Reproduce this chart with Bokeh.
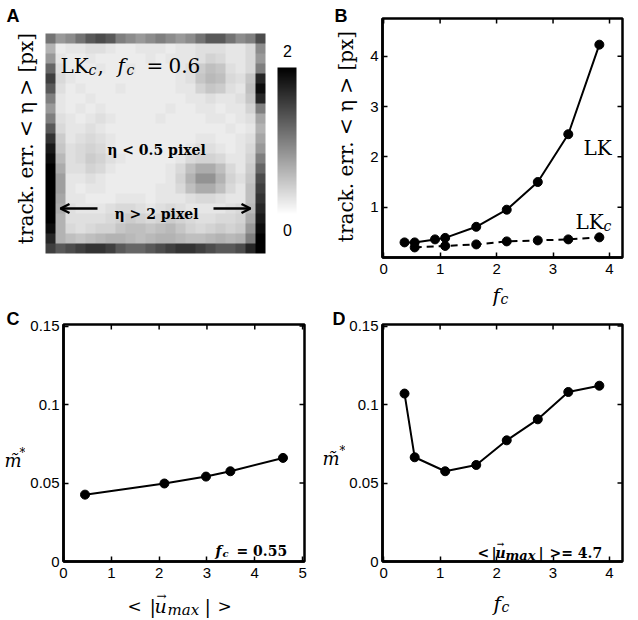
import numpy as np
from bokeh.plotting import figure
from bokeh.models import Range1d, Label, FixedTicker, LinearColorMapper, Arrow, OpenHead
from bokeh.layouts import row, column
from bokeh.palettes import Greys256
from bokeh.embed import file_html
from bokeh.resources import INLINE

SERIF = "DejaVu Serif"
SANS = "Liberation Sans"

# ---------------- data ----------------
# Panel B: tracking error vs f_c
fc_lk = [0.37, 0.55, 0.91, 1.09, 1.64, 2.18, 2.73, 3.27, 3.82]
err_lk = [0.30, 0.30, 0.36, 0.39, 0.61, 0.95, 1.50, 2.45, 4.23]
fc_lkc = [0.55, 1.09, 1.64, 2.18, 2.73, 3.27, 3.82]
err_lkc = [0.20, 0.23, 0.26, 0.32, 0.34, 0.36, 0.40]

# Panel C: m* vs <|u_max|>
umax_c = [0.45, 2.11, 2.98, 3.49, 4.59]
m_c = [0.0426, 0.0497, 0.0541, 0.0575, 0.0660]

# Panel D: m* vs f_c
fc_d = [0.37, 0.55, 1.09, 1.64, 2.18, 2.73, 3.27, 3.82]
m_d = [0.107, 0.0664, 0.0575, 0.0615, 0.0772, 0.0906, 0.108, 0.112]

# Panel A: tracking error map (px), rows listed top to bottom
err_map = [
    [1.1, 0.8, 0.9, 1.1, 1.3, 1.4, 1.3, 1.0, 0.9, 0.8, 0.9, 1.0, 0.9, 0.8, 0.9, 1.1, 1.3, 1.3, 1.1, 0.9, 1.0, 1.4],
    [0.6, 0.15, 0.2, 0.2, 0.25, 0.25, 0.2, 0.15, 0.15, 0.2, 0.2, 0.2, 0.15, 0.2, 0.2, 0.25, 0.25, 0.25, 0.2, 0.2, 0.3, 0.9],
    [0.8, 0.2, 0.15, 0.15, 0.2, 0.15, 0.15, 0.15, 0.15, 0.15, 0.2, 0.15, 0.2, 0.2, 0.2, 0.25, 0.35, 0.3, 0.2, 0.2, 0.3, 0.8],
    [1.2, 0.25, 0.15, 0.15, 0.15, 0.2, 0.15, 0.15, 0.2, 0.15, 0.15, 0.15, 0.15, 0.2, 0.25, 0.4, 0.5, 0.45, 0.25, 0.2, 0.3, 1.0],
    [1.5, 0.3, 0.2, 0.15, 0.15, 0.15, 0.15, 0.15, 0.15, 0.15, 0.15, 0.15, 0.15, 0.2, 0.25, 0.45, 0.55, 0.5, 0.3, 0.25, 0.45, 1.7],
    [1.3, 0.25, 0.15, 0.2, 0.15, 0.15, 0.15, 0.2, 0.15, 0.15, 0.15, 0.15, 0.15, 0.2, 0.2, 0.35, 0.45, 0.4, 0.25, 0.2, 0.5, 1.9],
    [1.0, 0.2, 0.15, 0.15, 0.2, 0.15, 0.15, 0.15, 0.15, 0.15, 0.15, 0.15, 0.15, 0.15, 0.2, 0.2, 0.25, 0.2, 0.2, 0.25, 0.45, 1.7],
    [0.8, 0.2, 0.15, 0.2, 0.15, 0.2, 0.15, 0.15, 0.15, 0.15, 0.15, 0.15, 0.2, 0.15, 0.15, 0.2, 0.2, 0.15, 0.2, 0.2, 0.35, 1.0],
    [1.0, 0.25, 0.2, 0.15, 0.2, 0.25, 0.2, 0.15, 0.15, 0.15, 0.15, 0.2, 0.15, 0.15, 0.15, 0.15, 0.2, 0.2, 0.15, 0.2, 0.25, 0.7],
    [1.3, 0.3, 0.2, 0.2, 0.25, 0.2, 0.15, 0.15, 0.15, 0.15, 0.15, 0.15, 0.15, 0.15, 0.15, 0.15, 0.15, 0.15, 0.2, 0.15, 0.2, 0.6],
    [1.6, 0.4, 0.2, 0.25, 0.3, 0.25, 0.2, 0.15, 0.15, 0.15, 0.15, 0.15, 0.15, 0.15, 0.15, 0.2, 0.2, 0.15, 0.15, 0.2, 0.25, 0.7],
    [1.8, 0.45, 0.25, 0.3, 0.35, 0.3, 0.2, 0.15, 0.15, 0.15, 0.15, 0.15, 0.15, 0.15, 0.2, 0.25, 0.25, 0.2, 0.15, 0.2, 0.3, 0.8],
    [1.9, 0.55, 0.25, 0.3, 0.4, 0.35, 0.25, 0.2, 0.15, 0.15, 0.15, 0.15, 0.15, 0.2, 0.3, 0.35, 0.35, 0.3, 0.2, 0.2, 0.35, 1.0],
    [2.0, 0.65, 0.25, 0.25, 0.35, 0.3, 0.2, 0.15, 0.15, 0.15, 0.15, 0.15, 0.2, 0.3, 0.5, 0.65, 0.65, 0.5, 0.3, 0.2, 0.4, 1.2],
    [2.0, 0.75, 0.2, 0.2, 0.25, 0.2, 0.15, 0.15, 0.15, 0.15, 0.15, 0.15, 0.2, 0.35, 0.6, 0.85, 0.85, 0.6, 0.35, 0.25, 0.45, 1.4],
    [2.0, 0.75, 0.2, 0.15, 0.2, 0.2, 0.15, 0.15, 0.15, 0.15, 0.15, 0.2, 0.2, 0.3, 0.5, 0.65, 0.65, 0.5, 0.3, 0.2, 0.5, 1.5],
    [2.0, 0.7, 0.2, 0.2, 0.15, 0.15, 0.15, 0.2, 0.2, 0.2, 0.15, 0.2, 0.2, 0.2, 0.25, 0.3, 0.3, 0.25, 0.2, 0.2, 0.5, 1.6],
    [2.0, 0.65, 0.25, 0.2, 0.2, 0.2, 0.25, 0.3, 0.3, 0.25, 0.2, 0.25, 0.3, 0.25, 0.2, 0.2, 0.2, 0.2, 0.25, 0.3, 0.55, 1.7],
    [2.0, 0.6, 0.25, 0.25, 0.25, 0.25, 0.3, 0.35, 0.4, 0.35, 0.3, 0.35, 0.4, 0.35, 0.3, 0.25, 0.25, 0.3, 0.3, 0.35, 0.65, 1.8],
    [1.9, 0.6, 0.3, 0.25, 0.3, 0.35, 0.35, 0.45, 0.5, 0.5, 0.45, 0.5, 0.55, 0.45, 0.35, 0.3, 0.35, 0.4, 0.35, 0.4, 0.8, 1.9],
    [1.7, 0.6, 0.5, 0.45, 0.5, 0.55, 0.6, 0.6, 0.55, 0.5, 0.55, 0.6, 0.6, 0.55, 0.5, 0.5, 0.55, 0.6, 0.55, 0.6, 1.0, 2.0],
    [1.5, 1.3, 1.4, 1.5, 1.6, 1.6, 1.5, 1.3, 1.2, 1.2, 1.3, 1.4, 1.5, 1.6, 1.6, 1.5, 1.4, 1.3, 1.3, 1.4, 1.7, 2.0],
]
cbar_low, cbar_high = 0, 2
cbar_labels = ["0", "2"]

# ticks
b_xticks = [0, 1, 2, 3, 4]
b_yticks = [1, 2, 3, 4]
c_xticks = [0, 1, 2, 3, 4, 5]
d_xticks = [0, 1, 2, 3, 4]
m_yticks = [0, 0.05, 0.1, 0.15]
m_ytick_labels = ["0", "0.05", "0.1", "0.15"]


# ---------------- helpers ----------------
class PageMap:
    """maps reference-page pixel positions onto a figure's data coordinates"""
    def __init__(self, fl, ft, fw, fh, xr, yr):
        self.fl, self.ft, self.fw, self.fh, self.xr, self.yr = fl, ft, fw, fh, xr, yr

    def __call__(self, px, py):
        x = self.xr[0] + (px - self.fl) / self.fw * (self.xr[1] - self.xr[0])
        y = self.yr[1] - (py - self.ft) / self.fh * (self.yr[1] - self.yr[0])
        return x, y


def txt(p, m, px, py, s, size, font=SERIF, style="normal", align="left",
        baseline="alphabetic", angle=0.0):
    x, y = m(px, py)
    p.add_layout(Label(x=x, y=y, text=s, text_font=font, text_font_size=f"{size}px",
                       text_font_style=style, text_align=align, text_baseline=baseline,
                       angle=angle, text_color="black"))


def blank_fig(ox, oy, w, h, xr=None, yr=None, bl=0, br=0):
    """axis-less figure; its frame spans [ox+bl, ox+w-br] x [oy, oy+h] on the page"""
    fw = w - bl - br
    xr = xr or (0, fw)
    yr = yr or (0, h)
    p = figure(width=w, height=h, x_range=Range1d(*xr), y_range=Range1d(*yr),
               output_backend="svg", toolbar_location=None,
               min_border_left=bl, min_border_right=br, min_border_top=0,
               min_border_bottom=0, x_axis_type=None, y_axis_type=None)
    p.outline_line_color = None
    p.background_fill_color = "white"
    p.border_fill_color = "white"
    return p, PageMap(ox + bl, oy, fw, h, xr, yr)


def make_panel(ox, oy, w, h, fl, ft, fw, fh, xr, yr, xticks, yticks, ylabels=None):
    p = figure(width=w, height=h, x_range=Range1d(*xr), y_range=Range1d(*yr),
               output_backend="svg", toolbar_location=None,
               min_border_left=fl - ox, min_border_top=ft - oy,
               min_border_right=w - (fl - ox) - fw, min_border_bottom=h - (ft - oy) - fh)
    p.xgrid.visible = False
    p.ygrid.visible = False
    p.outline_line_color = "black"
    p.outline_line_width = 2.5
    p.background_fill_color = "white"
    p.border_fill_color = "white"
    for ax, ticks in ((p.xaxis[0], xticks), (p.yaxis[0], yticks)):
        ax.ticker = FixedTicker(ticks=ticks)
        ax.major_tick_in = 5
        ax.major_tick_out = 0
        ax.minor_tick_in = 0
        ax.minor_tick_out = 0
        ax.axis_line_width = 2.5
        ax.major_tick_line_width = 1.5
        ax.major_label_text_font = SANS
        ax.major_label_text_font_size = "15px"
        ax.major_label_text_color = "black"
    p.xaxis[0].major_label_standoff = 6
    p.yaxis[0].major_label_standoff = 4
    if ylabels:
        p.yaxis[0].major_label_overrides = dict(zip(yticks, ylabels))
    # inward ticks on the top and right edges of the box (half of each dash is clipped)
    p.scatter(xticks, [yr[1]] * len(xticks), marker="dash", size=10, angle=np.pi / 2,
              line_color="black", line_width=1.5)
    p.scatter([xr[1]] * len(yticks), yticks, marker="dash", size=10,
              line_color="black", line_width=1.5)
    return p, PageMap(fl, ft, fw, fh, xr, yr)


TOP_H = 306      # height of the upper row
BOT_Y = TOP_H    # page y where the lower row starts

# ---------------- Panel A ----------------
pA, mA = blank_fig(0, 0, 319, TOP_H, xr=((0 - 45) / 220, (319 - 45) / 220),
                   yr=((253 - TOP_H) / 220, (253 - 0) / 220))
cmap = LinearColorMapper(palette=list(reversed(Greys256)), low=cbar_low, high=cbar_high)
pA.image(image=[np.flipud(np.array(err_map, dtype=float))], x=0, y=0, dw=1, dh=1,
         color_mapper=cmap)
grad = np.linspace(cbar_low, cbar_high, 256).reshape(-1, 1)
cx0, cy0 = mA(277, 214)
cx1, cy1 = mA(296, 67)
pA.image(image=[grad], x=cx0, y=cy0, dw=cx1 - cx0, dh=cy1 - cy0, color_mapper=cmap)
txt(pA, mA, 287, 50, cbar_labels[1], 16, SANS, align="center", baseline="middle")
txt(pA, mA, 287, 229, cbar_labels[0], 16, SANS, align="center", baseline="middle")

txt(pA, mA, 6, 5, "A", 18, SANS, "bold", baseline="top")
txt(pA, mA, 25, 138, "track. err. < η > [px]", 20, align="center", baseline="middle",
    angle=np.pi / 2)
txt(pA, mA, 60, 65, "LK", 20)
txt(pA, mA, 88, 69, "c", 14, style="italic")
txt(pA, mA, 97, 65, ",", 20)
txt(pA, mA, 117, 65, "f", 20, style="italic")
txt(pA, mA, 126, 69, "c", 14, style="italic")
txt(pA, mA, 146, 65, "=", 20)
txt(pA, mA, 168, 65, "0.6", 20)
txt(pA, mA, 156, 149, "η < 0.5 pixel", 14, style="bold", align="center")
txt(pA, mA, 156, 213, "η > 2 pixel", 14, style="bold", align="center")
for (sx, ex) in ((97, 60), (213, 250)):
    x0, y0 = mA(sx, 208)
    x1, y1 = mA(ex, 208)
    pA.add_layout(Arrow(x_start=x0, y_start=y0, x_end=x1, y_end=y1, line_width=2.5,
                        line_color="black",
                        end=OpenHead(size=9, line_width=2.5, line_color="black")))

# ---------------- Panel B ----------------
pBl, mBl = blank_fig(319, 0, 39, TOP_H)
txt(pBl, mBl, 334, 5, "B", 18, SANS, "bold", baseline="top")
txt(pBl, mBl, 345, 136, "track. err. < η > [px]", 20, align="center", baseline="middle",
    angle=np.pi / 2)

pB, mB = make_panel(358, 0, 280, 281, 382, 18, 240, 239, (-0.02, 4.23), (0.0, 4.75),
                    b_xticks, b_yticks)
pB.line(fc_lk, err_lk, line_color="black", line_width=2)
pB.scatter(fc_lk, err_lk, size=9, color="black")
pB.line(fc_lkc, err_lkc, line_color="black", line_width=2, line_dash="7 5")
pB.scatter(fc_lkc, err_lkc, size=9, color="black")
txt(pB, mB, 583, 147, "LK", 20)
txt(pB, mB, 575, 221, "LK", 20)
txt(pB, mB, 603, 225, "c", 14, style="italic")

pBb, mBb = blank_fig(358, 281, 280, TOP_H - 281, bl=24, br=16)
txt(pBb, mBb, 492, 295, "f", 20, style="italic")
txt(pBb, mBb, 500, 298, "c", 14, style="italic")

# ---------------- Panel C ----------------
pCl, mCl = blank_fig(0, BOT_Y, 25, 620 - BOT_Y)
txt(pCl, mCl, 6, BOT_Y + 2, "C", 18, SANS, "bold", baseline="top")
txt(pCl, mCl, 4, 460, "m\u0303", 18, style="italic")
txt(pCl, mCl, 19, 452, "*", 12)

pC, mC = make_panel(25, BOT_Y, 294, 585 - BOT_Y, 63, 324, 241, 237, (0.0, 5.04),
                    (0.0, 0.151), c_xticks, m_yticks, m_ytick_labels)
pC.line(umax_c, m_c, line_color="black", line_width=2)
pC.scatter(umax_c, m_c, size=9, color="black")
txt(pC, mC, 215, 550, "f", 14, style="bold italic")
txt(pC, mC, 222, 553, "c", 10, style="bold italic")
txt(pC, mC, 236, 550, "= 0.55", 14, style="bold")

pCb, mCb = blank_fig(25, 585, 294, 35, bl=38, br=15)
txt(pCb, mCb, 127, 605, "<", 17)
txt(pCb, mCb, 149, 605, "|", 19)
txt(pCb, mCb, 154, 605, "u", 19, style="italic")
txt(pCb, mCb, 161, 595, "\u2192", 12, align="center")
txt(pCb, mCb, 167, 609, "max", 15, style="italic")
txt(pCb, mCb, 204, 605, "|", 19)
txt(pCb, mCb, 217, 605, ">", 17)

# ---------------- Panel D ----------------
pDl, mDl = blank_fig(319, BOT_Y, 26, 620 - BOT_Y)
txt(pDl, mDl, 332, BOT_Y + 2, "D", 18, SANS, "bold", baseline="top")
txt(pDl, mDl, 322, 458, "m\u0303", 18, style="italic")
txt(pDl, mDl, 339, 450, "*", 12)

pD, mD = make_panel(345, BOT_Y, 293, 585 - BOT_Y, 382, 324, 240, 237, (-0.02, 4.23),
                    (0.0, 0.151), d_xticks, m_yticks, m_ytick_labels)
pD.line(fc_d, m_d, line_color="black", line_width=2)
pD.scatter(fc_d, m_d, size=9, color="black")
txt(pD, mD, 477, 552, "<", 14, style="bold")
txt(pD, mD, 491, 552, "|", 14, style="bold")
txt(pD, mD, 495, 552, "u", 14, style="bold italic")
txt(pD, mD, 500, 543, "\u2192", 9, style="bold", align="center")
txt(pD, mD, 505, 555, "max", 13, style="bold italic")
txt(pD, mD, 538, 552, "|", 14, style="bold")
txt(pD, mD, 549, 552, ">= 4.7", 14, style="bold")

pDb, mDb = blank_fig(345, 585, 293, 35, bl=37, br=16)
txt(pDb, mDb, 493, 603, "f", 20, style="italic")
txt(pDb, mDb, 501, 606, "c", 14, style="italic")

layout = column(
    row(pA, pBl, column(pB, pBb)),
    row(pCl, column(pC, pCb), pDl, column(pD, pDb)),
)

with open("out.html", "w") as f:
    f.write(file_html(layout, INLINE))
